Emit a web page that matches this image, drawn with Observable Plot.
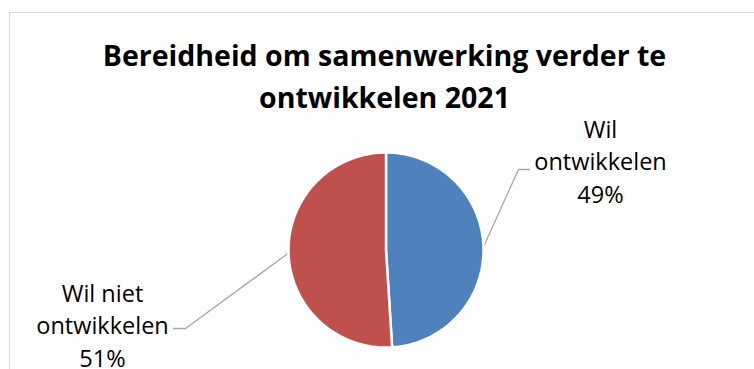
<!DOCTYPE html>
<html>
<head>
<meta charset="utf-8">
<script src="https://cdn.jsdelivr.net/npm/d3@7"></script>
<script src="https://cdn.jsdelivr.net/npm/@observablehq/plot@0.6"></script>
<style>
  html, body { margin: 0; padding: 0; background: #fff; overflow: hidden; }
  #wrap { position: relative; width: 754px; height: 369px; }
  #border { position: absolute; left: 9px; top: 12px; width: 800px; height: 400px;
            border: 1px solid #d9d9d9; box-sizing: border-box; pointer-events: none; }
</style>
</head>
<body>
<div id="wrap"><div id="border"></div></div>
<script>
// ---- data ----
const categories = ["Wil ontwikkelen", "Wil niet ontwikkelen"];
const values = [49, 51];
const labelLines = [["Wil", "ontwikkelen", "49%"], ["Wil niet", "ontwikkelen", "51%"]];
const colors = ["#4F81BD", "#C0504D"];
const titleLines = ["Bereidheid om samenwerking verder te", "ontwikkelen 2021"];

// ---- layout ----
const W = 754, H = 369;
const cx = 385.5, cy = 249.5, R = 97.5;
const labelPos = [{x: 600, y: 202}, {x: 102, y: 366}]; // baseline of last line
const elbows = [[{x: 518, y: 169}, {x: 529, y: 169}], [{x: 185, y: 328}, {x: 173, y: 328}]];

const pie = d3.pie().sort(null).value(d => d.value)(categories.map((c, i) => ({cat: c, value: values[i]})));
const pt = (a, r) => ({x: cx + r * Math.sin(a), y: cy - r * Math.cos(a)});

const slicePts = [];
pie.forEach((s) => {
  slicePts.push({cat: s.data.cat, x: cx, y: cy});
  const n = 120;
  for (let k = 0; k <= n; k++) {
    const a = s.startAngle + (s.endAngle - s.startAngle) * k / n;
    slicePts.push({cat: s.data.cat, ...pt(a, R)});
  }
  slicePts.push({cat: s.data.cat, x: cx, y: cy});
});

const leaderPts = [];
pie.forEach((s, i) => {
  const m = (s.startAngle + s.endAngle) / 2;
  leaderPts.push({cat: s.data.cat, ...pt(m, R)});
  elbows[i].forEach(e => leaderPts.push({cat: s.data.cat, ...e}));
});

const labels = pie.map((s, i) => ({cat: s.data.cat, text: labelLines[i].join("\n"), ...labelPos[i]}));
const titles = [{text: titleLines.join("\n"), x: 384, y: 107}];

const chart = Plot.plot({
  width: W, height: H,
  margin: 0,
  x: {domain: [0, W], range: [0, W], axis: null},
  y: {domain: [0, H], range: [0, H], axis: null},
  color: {domain: categories, range: colors},
  style: {fontFamily: "'Open Sans', Lato, sans-serif", background: "transparent"},
  marks: [
    Plot.line(leaderPts, {x: "x", y: "y", z: "cat", stroke: "#a6a6a6", strokeWidth: 1.3}),
    Plot.line(slicePts, {x: "x", y: "y", z: "cat", fill: "cat", stroke: "#fff", strokeWidth: 2.5, strokeLinejoin: "round"}),
    Plot.text(labels, {x: "x", y: "y", text: "text", fontSize: 23.5, lineHeight: 1.38, lineAnchor: "bottom", fill: "#000", textAnchor: "middle"}),
    Plot.text(titles, {x: "x", y: "y", text: "text", fontSize: 28.5, fontWeight: "bold", lineHeight: 1.47, lineAnchor: "bottom", fill: "#000", textAnchor: "middle"})
  ]
});
document.getElementById("wrap").prepend(chart);
chart.style.position = "absolute";
chart.style.left = "0"; chart.style.top = "0";
</script>
</body>
</html>
